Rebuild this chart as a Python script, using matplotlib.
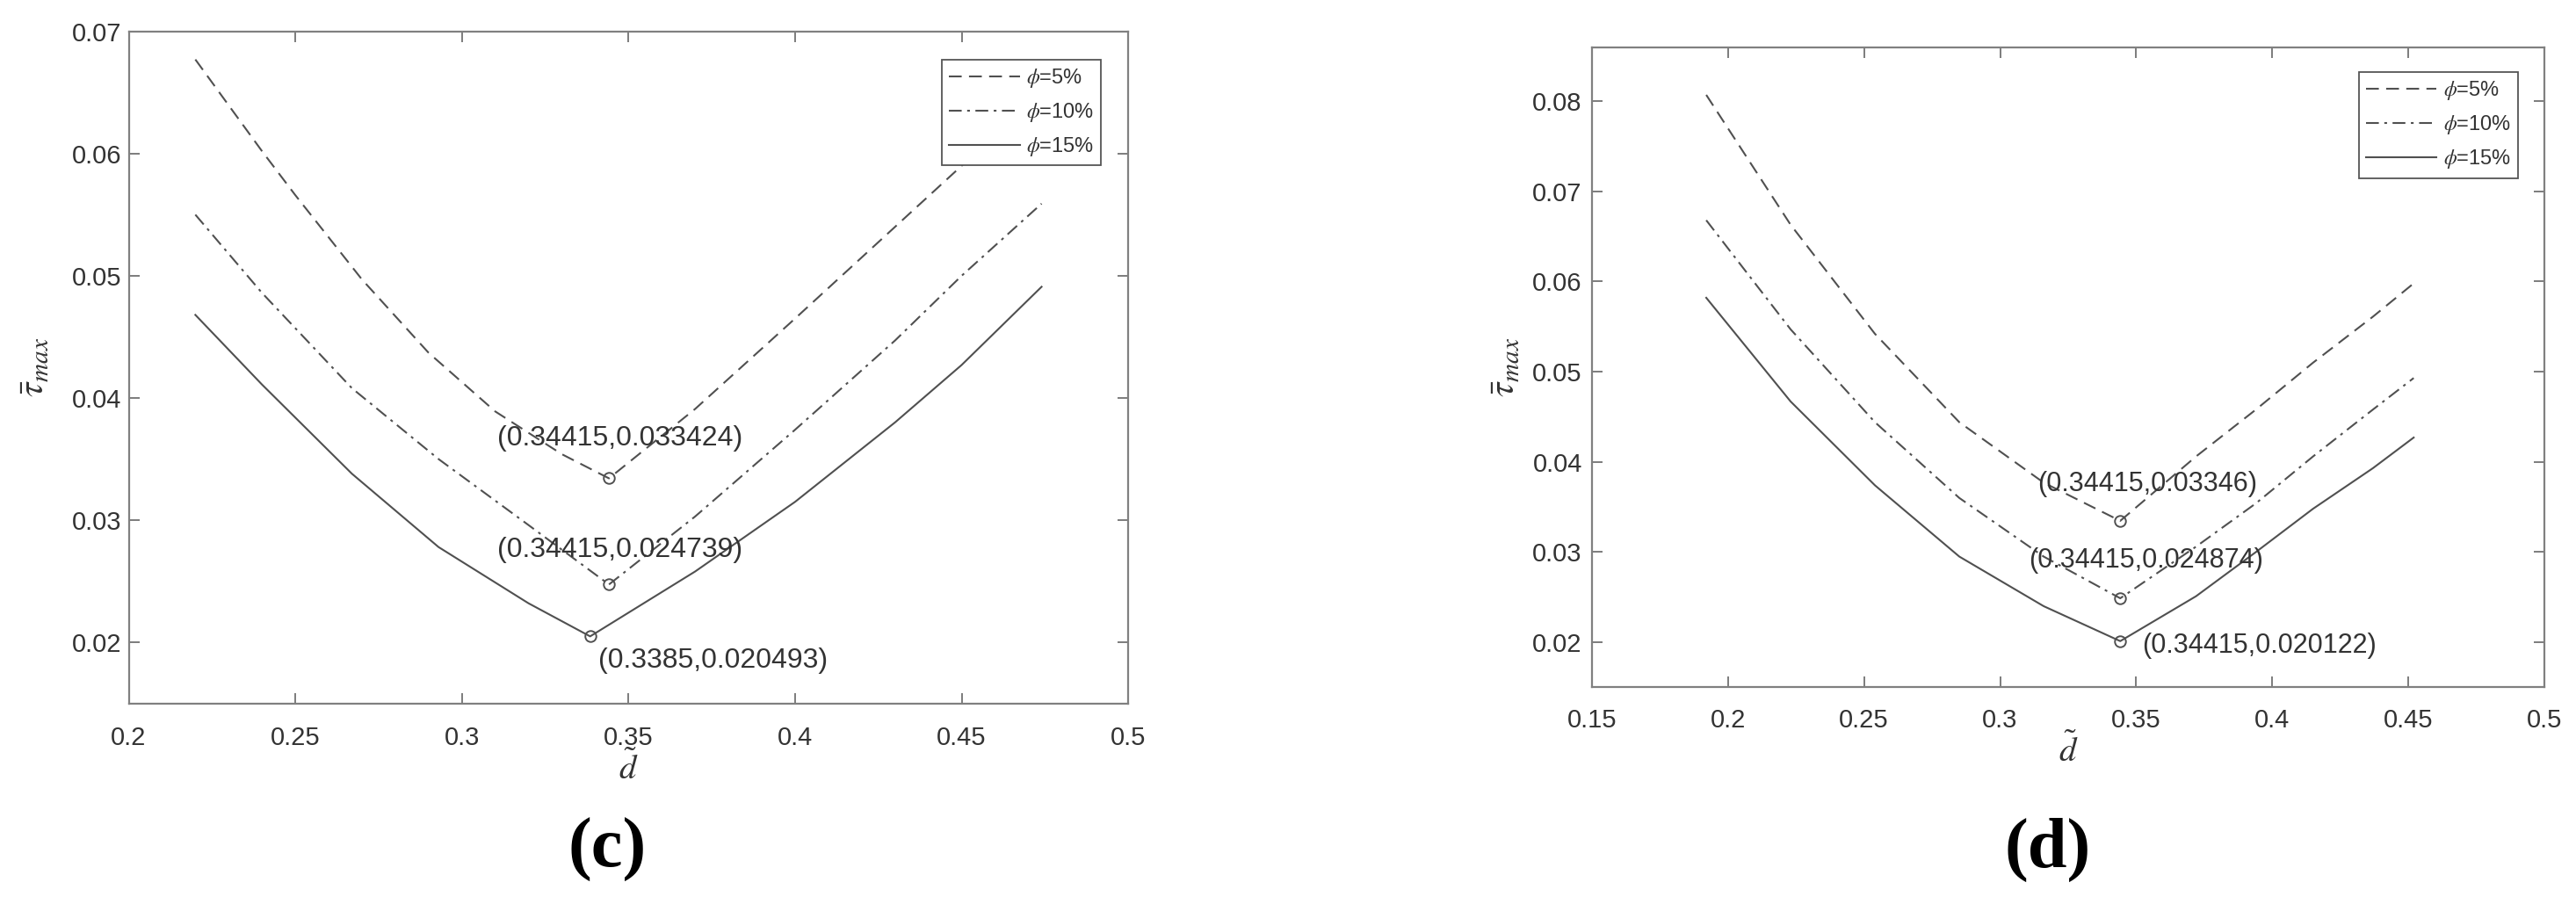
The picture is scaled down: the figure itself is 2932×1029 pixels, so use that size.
import numpy as np
import matplotlib
matplotlib.use("Agg")
import matplotlib.pyplot as plt
from matplotlib.ticker import FuncFormatter

plt.rcParams['font.family'] = ['Liberation Sans', 'DejaVu Sans']
plt.rcParams['mathtext.fontset'] = 'stix'

# ---- data ----
# panel (c)
c_x5 = [0.22, 0.24, 0.25, 0.27, 0.29, 0.31, 0.33, 0.34415, 0.37, 0.40, 0.43, 0.45, 0.475]
c_y5 = [0.0677, 0.0602, 0.0566, 0.0497, 0.0437, 0.0389, 0.0354, 0.033424, 0.0391, 0.0465, 0.0540, 0.0590, 0.0655]
c_x10 = [0.22, 0.24, 0.267, 0.293, 0.32, 0.34415, 0.37, 0.40, 0.43, 0.45, 0.474]
c_y10 = [0.0550, 0.0486, 0.0408, 0.0350, 0.0296, 0.024739, 0.0303, 0.0374, 0.0447, 0.0500, 0.0559]
c_x15 = [0.22, 0.24, 0.267, 0.293, 0.32, 0.3385, 0.37, 0.40, 0.43, 0.45, 0.474]
c_y15 = [0.0468, 0.0411, 0.0338, 0.0278, 0.0232, 0.020493, 0.0258, 0.0315, 0.0380, 0.0427, 0.0491]
c_min = [(0.34415, 0.033424), (0.34415, 0.024739), (0.3385, 0.020493)]

# panel (d)
d_x = [0.192, 0.223, 0.254, 0.285, 0.316, 0.34415, 0.372, 0.394, 0.415, 0.437, 0.452]
d_y5 = [0.0807, 0.0663, 0.0542, 0.0444, 0.0377, 0.03346, 0.0406, 0.0458, 0.0510, 0.0561, 0.0598]
d_y10 = [0.0668, 0.0547, 0.0444, 0.0360, 0.0295, 0.024874, 0.0306, 0.0354, 0.0406, 0.0458, 0.0493]
d_y15 = [0.0582, 0.0467, 0.0374, 0.0295, 0.0240, 0.020122, 0.0251, 0.0300, 0.0348, 0.0393, 0.0427]
d_min = [(0.34415, 0.03346), (0.34415, 0.024874), (0.34415, 0.020122)]

labels = ['$\\phi$=5%', '$\\phi$=10%', '$\\phi$=15%']

line_col = '#505050'
txt_col = '#333333'
styles = [(0, (7, 4)), (0, (7, 3, 1.5, 3)), '-']

fig = plt.figure(figsize=(29.32, 10.29), dpi=100)
ax_c = fig.add_axes([0.04997, 0.2218, 0.3880, 0.7435])
ax_d = fig.add_axes([0.6180, 0.2397, 0.3697, 0.7082])


def style_axes(ax, xlim, ylim, xticks, yticks, xpad, ypad, ylabpad):
    ax.set_xlim(*xlim)
    ax.set_ylim(*ylim)
    ax.set_xticks(xticks)
    ax.set_yticks(yticks)
    fmt = FuncFormatter(lambda v, p: f"{v:g}")
    ax.xaxis.set_major_formatter(fmt)
    ax.yaxis.set_major_formatter(fmt)
    ax.tick_params(direction='in', length=8.5, width=1.2, color='#666666',
                   top=True, right=True, labelsize=21, labelcolor=txt_col)
    ax.tick_params(axis='x', pad=xpad)
    ax.tick_params(axis='y', pad=ypad)
    for s in ax.spines.values():
        s.set_color('#808080')
        s.set_linewidth(1.6)
    ax.set_xlabel('$\\tilde{d}$', fontsize=28, color=txt_col, labelpad=0)
    ax.set_ylabel('$\\bar{\\tau}_{max}$', fontsize=30, color=txt_col, labelpad=ylabpad)


def add_legend(ax, anchor):
    leg = ax.legend(loc='upper right', bbox_to_anchor=anchor, borderaxespad=0,
                    fontsize=17, handlelength=3.4, labelspacing=0.55, borderpad=0.35,
                    handletextpad=0.3, fancybox=False, framealpha=1)
    leg.get_frame().set_edgecolor('#555555')
    leg.get_frame().set_linewidth(1.3)
    for t in leg.get_texts():
        t.set_color(txt_col)


# ---- (c) ----
for xs, ys, ls, lb in zip([c_x5, c_x10, c_x15], [c_y5, c_y10, c_y15], styles, labels):
    ax_c.plot(xs, ys, color=line_col, lw=1.5, linestyle=ls, label=lb)
for (mx, my) in c_min:
    ax_c.plot(mx, my, 'o', ms=9, mfc='none', mec=line_col, mew=1.4)

ax_c.annotate('(0.34415,0.033424)', c_min[0], xytext=(9, 33), textcoords='offset points',
              ha='center', va='center', fontsize=23, color=txt_col)
ax_c.annotate('(0.34415,0.024739)', c_min[1], xytext=(9, 28), textcoords='offset points',
              ha='center', va='center', fontsize=23, color=txt_col)
ax_c.annotate('(0.3385,0.020493)', c_min[2], xytext=(6.5, -20), textcoords='offset points',
              ha='left', va='center', fontsize=23, color=txt_col)

style_axes(ax_c, (0.2, 0.5), (0.015, 0.07), np.arange(0.2, 0.501, 0.05),
           np.arange(0.02, 0.0701, 0.01), 18, 6, 16)
add_legend(ax_c, (0.9727, 0.9578))

# ---- (d) ----
for ys, ls, lb in zip([d_y5, d_y10, d_y15], styles, labels):
    ax_d.plot(d_x, ys, color=line_col, lw=1.5, linestyle=ls, label=lb)
for (mx, my) in d_min:
    ax_d.plot(mx, my, 'o', ms=9, mfc='none', mec=line_col, mew=1.4)

ax_d.annotate('(0.34415,0.03346)', d_min[0], xytext=(22, 30), textcoords='offset points',
              ha='center', va='center', fontsize=22, color=txt_col)
ax_d.annotate('(0.34415,0.024874)', d_min[1], xytext=(21, 31), textcoords='offset points',
              ha='center', va='center', fontsize=22, color=txt_col)
ax_d.annotate('(0.34415,0.020122)', d_min[2], xytext=(18, -4), textcoords='offset points',
              ha='left', va='center', fontsize=22, color=txt_col)

style_axes(ax_d, (0.15, 0.5), (0.015, 0.086), np.arange(0.15, 0.501, 0.05),
           np.arange(0.02, 0.0801, 0.01), 17, 8, 8)
add_legend(ax_d, (0.9723, 0.961))

# panel captions
fig.text(0.2357, 0.0603, '(c)', fontsize=58, fontweight='bold', family='Liberation Serif',
         ha='center', va='center', color='black')
fig.text(0.795, 0.0603, '(d)', fontsize=58, fontweight='bold', family='Liberation Serif',
         ha='center', va='center', color='black')

fig.savefig('out.png', dpi=100, facecolor='white')
